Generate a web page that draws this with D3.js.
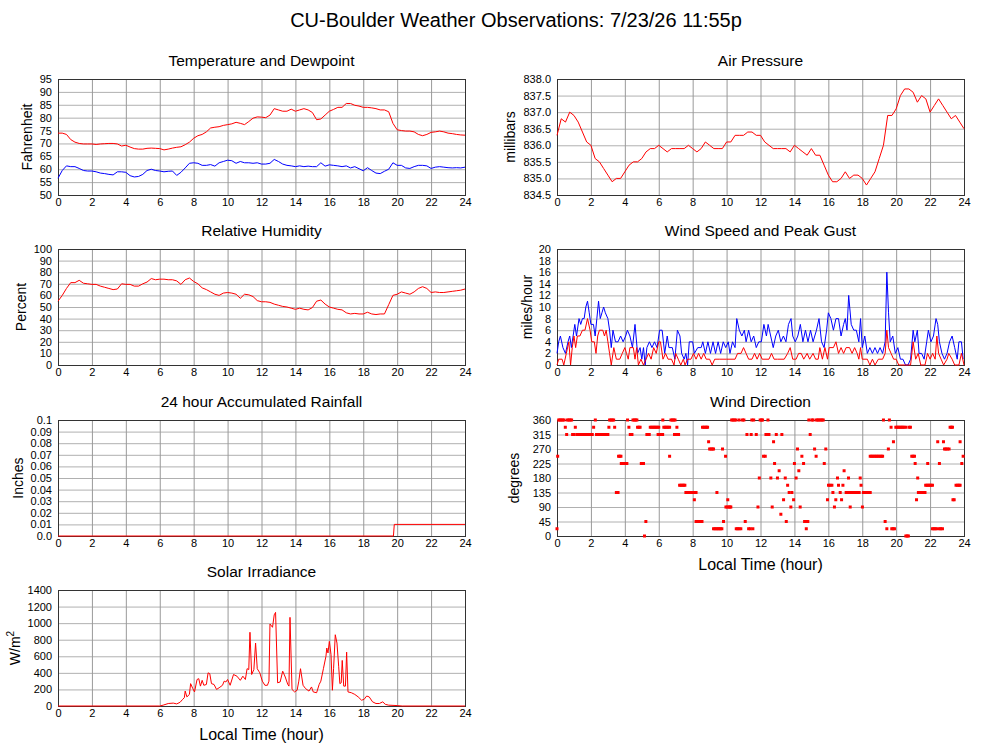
<!DOCTYPE html>
<html>
<head>
<meta charset="utf-8">
<script src="https://cdn.jsdelivr.net/npm/d3@7"></script>
<style>
  body { margin: 0; background: #fff; }
  svg { font-family: "Liberation Sans", Arial, Helvetica, sans-serif; }
  .yaxis .tick line { stroke: #b0b0b0; }
  .xaxis .tick line { stroke: #999; }
  .tick text { font-size: 11px; fill: #000; }
</style>
</head>
<body>
<svg id="chart" width="1000" height="745"></svg>
<script>
// readings every 15 minutes, 00:00 .. 24:00 (8 per row = 2 hours)
var sampleStep = 0.25;

var tempF = [
  74, 74, 73.5, 71.5, 70.5, 70, 69.8, 69.8,
  69.8, 69.6, 69.8, 69.9, 70, 70, 69.8, 69,
  69.3, 68.6, 68, 67.8, 67.8, 68.1, 68.2, 68.1,
  68, 67.5, 67.8, 68.2, 68.5, 68.7, 69.5, 70.5,
  72, 73, 73.5, 74.5, 76, 76.3, 76.5, 77,
  77.3, 77.6, 78.2, 77.8, 77.3, 78.5, 79.8, 80.3,
  80.2, 80, 81, 83.5, 83, 82.5, 82.5, 83.3,
  82.5, 83, 83.5, 83, 82, 79.2, 79.5, 81,
  82.5, 83.2, 84, 84, 85.5, 85.5, 84.8, 84.5,
  84, 84, 83.8, 83.5, 83, 83, 82.3, 77.8,
  75.3, 75, 74.8, 74.8, 74.5, 73.5, 73, 73.5,
  74.3, 74.5, 74.8, 74.5, 74, 73.8, 73.5, 73.3,
  73.2
];

var dewpointF = [
  56.5, 59.5, 61.3, 61, 61, 60.3, 59.5, 59.3,
  59.3, 59, 58.5, 58.3, 58, 57.8, 59, 59,
  58.8, 57.5, 57, 57.2, 58, 59.5, 60, 59.5,
  59.3, 59, 59.2, 59.3, 57.6, 58.8, 60.5, 62.3,
  62.5, 62.3, 61.5, 61.5, 61.8, 61.2, 62.5, 63,
  63.5, 63.3, 62.3, 63, 62.5, 62.5, 62.3, 62.5,
  62, 62, 62.3, 63.8, 63, 62, 61.5, 61.3,
  61, 61.3, 61, 61.2, 61, 61, 62.5, 61.2,
  61.7, 61.5, 61.3, 61, 61.3, 60.5, 61, 60.2,
  59.4, 60.6, 59.5, 58.5, 58.3, 59.2, 60, 62.5,
  61.5, 61.5, 60.5, 60.3, 61, 61.5, 61.5, 61.3,
  60.3, 60.8, 61, 60.8, 60.6, 60.5, 60.6, 60.5,
  60.8
];

var pressureMb = [
  836.3, 836.8, 836.7, 837.0, 836.9, 836.7, 836.4, 836.1,
  836.0, 835.6, 835.5, 835.3, 835.1, 834.9, 835.0, 835.0,
  835.2, 835.4, 835.5, 835.5, 835.6, 835.8, 835.9, 835.9,
  836.0, 835.9, 835.8, 835.9, 835.9, 835.9, 835.9, 836.0,
  835.9, 835.8, 835.9, 836.1, 836.0, 835.9, 835.9, 835.9,
  836.1, 836.1, 836.3, 836.3, 836.3, 836.4, 836.4, 836.3,
  836.3, 836.1, 836.0, 835.9, 835.9, 835.9, 835.9, 835.8,
  836.0, 835.9, 835.8, 835.7, 835.9, 835.7, 835.7, 835.4,
  835.1, 834.9, 834.9, 835.0, 835.2, 835.0, 835.1, 835.1,
  835.0, 834.8, 835.0, 835.2, 835.6, 836.0, 836.9, 836.9,
  837.1, 837.5, 837.7, 837.7, 837.6, 837.3, 837.5, 837.4,
  837.0, 837.2, 837.4, 837.2, 837.0, 836.8, 836.9, 836.7,
  836.5
];

var humidityPct = [
  55, 60, 66, 71, 71, 73, 70.5, 70,
  69.5, 69.5, 68, 67, 66, 65, 65.5, 70,
  69.5, 69.5, 68, 68, 70, 71.5, 74.5, 73.5,
  74, 74, 73.5, 73.5, 72.5, 69.5, 73.5, 75,
  72, 70, 66.5, 65, 63, 61, 60, 62,
  62.5, 62, 61, 57.5, 61, 60.5, 59, 55.5,
  54.5, 54.5, 54, 52.5, 51.5, 50.5, 50, 49,
  48, 49, 48, 47.5, 49.5, 55, 56, 52.5,
  50, 49, 48, 47.5, 45, 44, 44.5, 44,
  44, 45.5, 44, 43.5, 44, 44, 52, 60,
  61, 63, 62, 61, 63, 66, 67.5, 66,
  62.5, 63, 62.5, 62.5, 63, 63.5, 64, 64.5,
  65.5
];

// [hour, mph]
var windGust = [
  [0,2],[0.1,4],[0.2,5],[0.35,3],[0.5,2],[0.65,4],[0.75,5],[0.85,3],[0.95,5],[1.05,7],
  [1.15,5],[1.3,8],[1.4,7],[1.5,8],[1.6,8],[1.7,10],[1.8,11],[1.9,9],[2.0,7],[2.15,7],
  [2.25,5],[2.35,8],[2.45,11],[2.55,8],[2.65,9],[2.75,10],[2.85,9],[3.0,8],[3.1,6],[3.2,3],
  [3.3,6],[3.45,4],[3.6,4],[3.75,5],[3.9,4],[4.05,5],[4.15,6],[4.3,5],[4.45,3],[4.6,7],
  [4.75,2],[4.9,3],[5.0,1],[5.1,3],[5.2,0],[5.3,3],[5.45,4],[5.6,3],[5.75,4],[5.9,3],
  [6.05,6],[6.2,6],[6.35,2],[6.5,5],[6.6,3],[6.8,3],[6.95,1],[7.1,6],[7.25,5],[7.35,2],
  [7.5,1],[7.6,2],[7.7,0],[7.8,4],[8.0,4],[8.1,2],[8.3,3],[8.5,3],[8.6,4],[8.75,2],
  [8.9,4],[9.05,2],[9.2,4],[9.35,2],[9.5,4],[9.65,2],[9.8,4],[9.95,3],[10.1,4],[10.2,2],
  [10.35,4],[10.5,3],[10.6,8],[10.75,6],[10.9,5],[11.05,6],[11.15,4],[11.3,6],[11.45,4],[11.6,5],
  [11.75,3],[11.9,4],[12.05,4],[12.2,7],[12.35,5],[12.45,7],[12.6,5],[12.75,3],[12.9,5],[13.05,6],
  [13.2,4],[13.35,5],[13.5,4],[13.65,7],[13.8,8],[13.9,5],[14.05,4],[14.2,5],[14.35,7],[14.5,4],
  [14.65,6],[14.8,4],[14.95,6],[15.1,4],[15.3,6],[15.45,8],[15.6,4],[15.75,3],[15.9,6],[16.0,9],
  [16.15,8],[16.3,6],[16.45,8],[16.6,8],[16.75,5],[16.9,7],[17.0,8],[17.1,6],[17.2,12],[17.35,7],
  [17.5,6],[17.65,6],[17.8,4],[17.9,8],[18.0,3],[18.15,5],[18.3,2],[18.45,3],[18.6,2],[18.75,3],
  [18.9,2],[19.05,3],[19.2,2],[19.35,4],[19.45,16],[19.55,9],[19.65,4],[19.8,5],[19.95,2],[20.1,3],
  [20.25,1],[20.4,1],[20.55,0],[20.7,0],[20.85,1],[21.0,6],[21.1,4],[21.25,6],[21.35,2],[21.5,2],
  [21.65,1],[21.8,4],[21.9,6],[22.05,4],[22.2,5],[22.35,8],[22.45,7],[22.55,4],[22.7,2],[22.85,1],
  [23.0,2],[23.15,4],[23.3,5],[23.45,3],[23.6,1],[23.7,4],[23.85,4],[23.95,1]
];

var windSpeed = [
  [0,0],[0.1,1],[0.3,1],[0.4,0],[0.55,2],[0.7,4],[0.8,0],[0.9,3],[1.0,5],[1.1,3],
  [1.2,5],[1.35,5],[1.5,6],[1.65,6],[1.8,8],[1.95,6],[2.05,4],[2.2,4],[2.3,2],[2.4,5],
  [2.5,6],[2.7,6],[2.8,5],[2.9,6],[3.0,4],[3.1,2],[3.2,0],[3.35,3],[3.5,1],[3.7,1],
  [3.85,2],[4.0,3],[4.1,2],[4.2,1],[4.3,3],[4.5,3],[4.6,1],[4.7,3],[4.8,0],[4.95,1],
  [5.1,0],[5.25,1],[5.4,2],[5.55,1],[5.7,3],[5.85,2],[6.0,4],[6.1,4],[6.25,1],[6.4,2],
  [6.55,1],[6.75,1],[6.9,0],[7.0,2],[7.15,1],[7.3,0],[7.45,1],[7.55,0],[7.7,1],[7.9,1],
  [8.05,2],[8.2,1],[8.35,2],[8.5,1],[8.65,2],[8.8,1],[9.0,1],[9.15,0],[9.3,1],[9.6,1],
  [10.0,1],[10.5,1],[10.65,2],[10.85,2],[11.0,3],[11.15,2],[11.3,1],[11.5,1],[11.65,2],[11.8,1],
  [11.95,2],[12.1,1],[12.5,1],[12.65,2],[12.8,1],[13.0,1],[13.4,1],[13.6,2],[13.75,3],[13.9,1],
  [14.1,1],[14.25,2],[14.4,2],[14.55,1],[14.75,2],[14.9,1],[15.1,2],[15.25,1],[15.4,1],[15.5,3],
  [15.65,1],[15.8,3],[15.95,1],[16.05,3],[16.3,3],[16.45,4],[16.6,2],[16.75,3],[16.9,2],[17.05,3],
  [17.25,3],[17.4,2],[17.55,3],[17.7,2],[17.8,1],[17.9,3],[18.0,1],[18.3,1],[18.45,0],[18.6,1],
  [18.75,0],[18.95,1],[19.2,1],[19.35,2],[19.45,6],[19.55,3],[19.7,2],[19.85,1],[20.0,1],[20.15,0],
  [20.5,0],[20.85,0],[21.0,4],[21.15,1],[21.3,2],[21.45,0],[21.7,0],[21.85,2],[22.0,1],[22.15,2],
  [22.3,1],[22.4,5],[22.5,2],[22.65,1],[22.8,0],[23.0,1],[23.1,2],[23.3,1],[23.45,0],[23.7,0],
  [23.85,2],[24,0]
];

// [hour, inches]
var rainIn = [[0,0],[19.78,0],[19.83,0.01],[24,0.01]];

// [degrees, hours observed at that heading]
var windDirObs = [
  [360, [0.1,0.17,0.25,0.33,0.42,0.62,0.7,0.78,0.86,2.26,3.1,3.18,3.26,3.34,4.16,4.48,4.56,4.64,4.71,
         6.24,6.72,6.8,6.88,6.96,10.3,10.38,10.46,10.55,10.74,10.94,11.02,11.49,11.6,11.98,12.06,12.12,
         12.44,14.85,15.03,15.1,15.3,15.38,15.46,15.55,15.63,15.7,19.25,19.6]],
  [337.5, [0.49,1.08,2.16,3.06,3.4,4.24,4.75,4.83,4.9,5.5,5.58,5.67,5.75,5.83,5.92,6.0,6.3,6.38,6.46,
           6.55,6.64,7.07,8.58,8.66,8.74,8.82,8.88,19.7,19.98,20.06,20.14,20.22,20.3,20.38,20.46,20.57,
           20.76,20.84,23.18,23.26,23.32]],
  [315, [0.57,0.92,1.0,1.17,1.25,1.33,1.42,1.5,1.58,1.67,1.75,1.83,1.92,2.0,2.08,2.33,2.42,2.5,2.58,
         2.67,2.75,2.83,2.92,3.0,4.32,4.42,5.3,5.38,5.44,5.96,6.06,6.14,6.23,6.93,7.0,7.1,7.17,11.2,
         11.45,11.75,12.32,12.4,12.5,12.93,13.26,14.93]],
  [292.5, [8.94,12.77,19.84,22.45,22.79,23.77]],
  [270, [9.0,9.08,9.16,9.23,9.76,14.18,15.19,15.85,19.54,22.85,22.93,23.02,23.12]],
  [247.5, [0.04,3.63,3.7,3.77,6.64,9.94,12.18,12.28,14.44,15.28,18.47,18.55,18.63,18.72,18.8,18.88,
           18.96,19.05,19.13,19.2,20.92,21.0,21.08,23.95]],
  [225, [3.79,3.87,3.95,4.04,4.12,4.97,5.04,5.1,12.83,14.0,14.54,15.76,21.12,21.86,22.55,23.87]],
  [202.5, [13.1,14.26,16.93]],
  [180, [11.93,12.61,13.0,13.46,14.1,16.54,17.19,17.88,21.27]],
  [157.5, [7.23,7.31,7.39,7.47,7.54,13.6,16.01,16.1,16.21,16.6,16.86,17.93,21.74,21.82,21.9,21.98,
           22.06,22.14,23.53,23.62,23.7,23.77]],
  [135, [3.5,3.6,7.6,7.68,7.76,7.84,7.92,8.0,8.08,8.2,9.43,13.69,13.85,16.27,16.7,17.05,17.13,17.22,
         17.3,17.38,17.47,17.55,17.63,17.72,17.82,18.07,18.15,18.23,18.3,18.38,18.47,21.31,21.4,21.48,
         21.56,21.64,21.7]],
  [112.5, [8.1,10.07,13.36,13.95,15.95,16.44,16.78,21.2,23.35,23.42]],
  [90, [9.96,10.04,10.14,10.2,10.25,11.85,12.69,13.79,14.34,16.36,17.29,18.01]],
  [67.5, [13.2]],
  [45, [5.24,8.2,8.28,8.36,8.45,8.55,9.82,11.1,13.52,14.6,14.7,14.79,19.35]],
  [22.5, [0.0,9.23,9.31,9.4,9.48,9.56,9.64,9.72,10.57,10.65,10.74,10.84,11.3,11.4,11.55,14.7,19.45,
          19.74,19.82,19.9,22.14,22.22,22.3,22.39,22.55,22.63,22.73]],
  [0, [5.16,20.57,20.65,20.72]]
];

// [hour, W/m^2]
var solarWm2 = [
  [0,0],[6.0,0],[6.2,10],[6.5,30],[6.8,35],[7.0,25],[7.2,45],[7.35,80],[7.45,100],[7.5,180],
  [7.6,110],[7.75,140],[7.82,270],[7.95,210],[8.05,170],[8.2,320],[8.3,330],[8.4,240],[8.5,310],[8.6,250],
  [8.75,260],[8.85,400],[8.95,390],[9.05,270],[9.2,260],[9.35,200],[9.5,220],[9.7,250],[9.8,300],[9.9,290],
  [10.0,320],[10.15,250],[10.35,380],[10.55,360],[10.75,310],[10.9,360],[11.05,320],[11.15,450],[11.25,440],[11.32,890],
  [11.42,380],[11.55,440],[11.65,760],[11.75,450],[11.9,400],[12.05,300],[12.2,250],[12.35,250],[12.44,300],[12.5,990],
  [12.65,950],[12.75,1100],[12.83,1130],[12.95,280],[13.1,290],[13.25,420],[13.4,350],[13.55,260],[13.62,240],[13.68,1070],
  [13.8,200],[13.95,170],[14.1,190],[14.2,300],[14.3,450],[14.45,250],[14.6,210],[14.8,180],[14.95,230],[15.05,170],
  [15.25,160],[15.4,260],[15.5,300],[15.65,450],[15.8,600],[15.85,700],[15.92,640],[16.0,780],[16.1,620],[16.18,190],
  [16.25,450],[16.35,860],[16.45,760],[16.55,480],[16.62,270],[16.7,280],[16.76,550],[16.85,240],[16.95,240],[17.02,650],
  [17.1,170],[17.3,160],[17.5,140],[17.7,110],[17.9,70],[18.05,80],[18.2,120],[18.35,110],[18.55,50],[18.75,30],
  [18.95,30],[19.15,50],[19.3,20],[19.5,10],[20.0,5],[20.3,0],[24,0]
];

// tick labels
var hourTicks = [0, 2, 4, 6, 8, 10, 12, 14, 16, 18, 20, 22, 24];
var tempTicks = [50, 55, 60, 65, 70, 75, 80, 85, 90, 95];
var pressureTicks = [834.5, 835.0, 835.5, 836.0, 836.5, 837.0, 837.5, 838.0];
var humidityTicks = [0, 10, 20, 30, 40, 50, 60, 70, 80, 90, 100];
var windTicks = [0, 2, 4, 6, 8, 10, 12, 14, 16, 18, 20];
var rainTicks = [0, 0.01, 0.02, 0.03, 0.04, 0.05, 0.06, 0.07, 0.08, 0.09, 0.1];
var rainTickLabels = ['0.0', '0.01', '0.02', '0.03', '0.04', '0.05', '0.06', '0.07', '0.08', '0.09', '0.1'];
var dirTicks = [0, 45, 90, 135, 180, 225, 270, 315, 360];
var solarTicks = [0, 200, 400, 600, 800, 1000, 1200, 1400];

var svg = d3.select('#chart');
var PW = 407, PH = 116;
var RED = '#ff0000', BLUE = '#0000ff';

svg.append('text')
  .attr('x', 516).attr('y', 27)
  .attr('text-anchor', 'middle')
  .style('font-size', '20px')
  .text('CU-Boulder Weather Observations: 7/23/26 11:55p');

function timed(values) {
  return values.map(function (v, i) { return [i * sampleStep, v]; });
}

// one framed plot with grid, tick labels and titles
function drawPanel(cfg) {
  var g = svg.append('g').attr('transform', 'translate(' + cfg.left + ',' + cfg.top + ')');
  var x = d3.scaleLinear().domain([0, 24]).range([0, PW]);
  var y = d3.scaleLinear().domain(cfg.yDomain).range([PH, 0]);

  var yAxis = g.append('g').attr('class', 'yaxis')
    .call(d3.axisLeft(y).tickValues(cfg.yTicks).tickSize(-PW).tickPadding(6)
      .tickFormat(cfg.yFormat));
  var xAxis = g.append('g').attr('class', 'xaxis')
    .attr('transform', 'translate(0,' + PH + ')')
    .call(d3.axisBottom(x).tickValues(hourTicks).tickSize(-PH).tickPadding(3)
      .tickFormat(d3.format('d')));
  [yAxis, xAxis].forEach(function (a) {
    a.attr('font-family', null).attr('font-size', null);
    a.select('.domain').remove();
  });

  g.append('rect')
    .attr('x', 0.5).attr('y', 0.5)
    .attr('width', PW).attr('height', PH)
    .attr('fill', 'none').attr('stroke', '#333');

  g.append('text')
    .attr('x', PW / 2).attr('y', -13)
    .attr('text-anchor', 'middle')
    .style('font-size', '15.5px')
    .text(cfg.title);

  var yt = g.append('text')
    .attr('transform', 'translate(' + (-cfg.labelGap) + ',' + (PH / 2) + ') rotate(-90)')
    .attr('text-anchor', 'middle')
    .style('font-size', '14px')
    .text(cfg.yLabel);
  if (cfg.yLabelSup) {
    yt.append('tspan').attr('dy', -6).style('font-size', '10px').text(cfg.yLabelSup);
  }

  if (cfg.xLabel) {
    g.append('text')
      .attr('x', PW / 2).attr('y', PH + 34)
      .attr('text-anchor', 'middle')
      .style('font-size', '16px')
      .text(cfg.xLabel);
  }
  return { g: g, x: x, y: y };
}

function drawLine(p, points, color) {
  var line = d3.line()
    .x(function (d) { return p.x(d[0]); })
    .y(function (d) { return p.y(d[1]); });
  p.g.append('path')
    .datum(points)
    .attr('d', line)
    .attr('fill', 'none')
    .attr('stroke', color)
    .attr('stroke-width', 1)
    .attr('stroke-linejoin', 'round');
}

var leftCol = 58, rightCol = 557;
var rows = [79, 249, 420, 590];

var temp = drawPanel({ left: leftCol, top: rows[0], title: 'Temperature and Dewpoint',
  yLabel: 'Fahrenheit', yDomain: [50, 95], yTicks: tempTicks, yFormat: d3.format('d'), labelGap: 26 });
drawLine(temp, timed(tempF), RED);
drawLine(temp, timed(dewpointF), BLUE);

var pres = drawPanel({ left: rightCol, top: rows[0], title: 'Air Pressure',
  yLabel: 'millibars', yDomain: [834.5, 838], yTicks: pressureTicks, yFormat: d3.format('.1f'), labelGap: 42 });
drawLine(pres, timed(pressureMb), RED);

var rh = drawPanel({ left: leftCol, top: rows[1], title: 'Relative Humidity',
  yLabel: 'Percent', yDomain: [0, 100], yTicks: humidityTicks, yFormat: d3.format('d'), labelGap: 32 });
drawLine(rh, timed(humidityPct), RED);

var wind = drawPanel({ left: rightCol, top: rows[1], title: 'Wind Speed and Peak Gust',
  yLabel: 'miles/hour', yDomain: [0, 20], yTicks: windTicks, yFormat: d3.format('d'), labelGap: 25 });
drawLine(wind, windGust, BLUE);
drawLine(wind, windSpeed, RED);

var rain = drawPanel({ left: leftCol, top: rows[2], title: '24 hour Accumulated Rainfall',
  yLabel: 'Inches', yDomain: [0, 0.1], yTicks: rainTicks,
  yFormat: function (d, i) { return rainTickLabels[i]; }, labelGap: 35 });
drawLine(rain, rainIn, RED);

var dir = drawPanel({ left: rightCol, top: rows[2], title: 'Wind Direction',
  yLabel: 'degrees', yDomain: [0, 360], yTicks: dirTicks, yFormat: d3.format('d'), labelGap: 38,
  xLabel: 'Local Time (hour)' });
var dirPoints = [];
windDirObs.forEach(function (row) {
  row[1].forEach(function (h) { dirPoints.push([h, row[0]]); });
});
dir.g.append('g').selectAll('rect')
  .data(dirPoints)
  .enter()
  .append('rect')
  .attr('x', function (d) { return dir.x(d[0]) - 1.5; })
  .attr('y', function (d) { return dir.y(d[1]) - 1.5; })
  .attr('width', 3).attr('height', 3)
  .attr('fill', RED);

var solar = drawPanel({ left: leftCol, top: rows[3], title: 'Solar Irradiance',
  yLabel: 'W/m', yLabelSup: '2', yDomain: [0, 1400], yTicks: solarTicks, yFormat: d3.format('d'), labelGap: 38,
  xLabel: 'Local Time (hour)' });
drawLine(solar, solarWm2, RED);
</script>
</body>
</html>
